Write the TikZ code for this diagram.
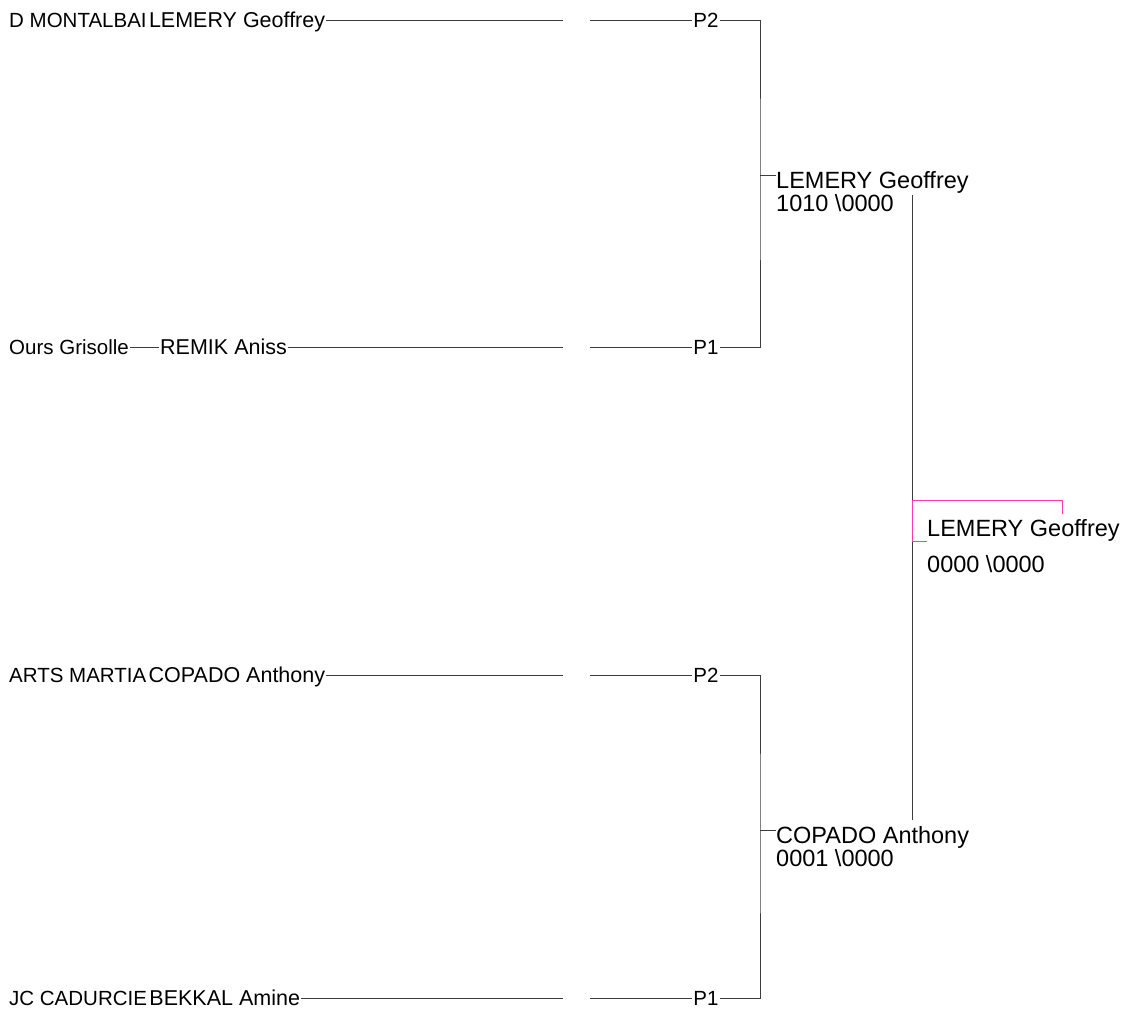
\documentclass[tikz,border=0pt]{standalone}
\usepackage{fontspec}
\setmainfont{Liberation Sans}
\usepackage{tikz}
\usetikzlibrary{positioning, calc}
\usepackage{xcolor}
\definecolor{wiregray}{RGB}{60,60,60}
\definecolor{winnerpink}{RGB}{255,60,170}
\newcommand{\clubfont}{\fontsize{20.5}{24}\selectfont}
\newcommand{\entryfont}{\fontsize{21.5}{26}\selectfont}
\newcommand{\seedfont}{\fontsize{20.5}{24}\selectfont}
\newcommand{\roundfont}{\fontsize{23.5}{19.5}\selectfont}
\newcommand{\finalfont}{\fontsize{23.5}{36}\selectfont}
\tikzset{
  entrybase/.style={inner sep=0pt, inner xsep=1pt, text height=14pt, text depth=0pt},
  clubbox/.style={entrybase, anchor=west, font=\clubfont},
  playerbox/.style={entrybase, font=\entryfont},
  seedbox/.style={entrybase, font=\seedfont},
  roundbox/.style={inner sep=0pt, anchor=north west, align=left, font=\roundfont},
  finalbox/.style={inner sep=0pt, anchor=north west, align=left, font=\finalfont},
  wire/.style={draw=wiregray, line width=0.9pt},
  pinkwire/.style={draw=winnerpink, line width=0.9pt}
}
\begin{document}
\begin{tikzpicture}[x=1pt, y=-1pt, node distance=0pt]
  \useasboundingbox (0,0) rectangle (1127,1010);

  \node[clubbox] (clubA) at (8,20) {D MONTALBAI};
  \node[playerbox, right=of clubA] (playerA) {LEMERY Geoffrey};
  \node[clubbox] (clubB) at (8,347) {Ours Grisolle};
  \node[playerbox, right=29pt of clubB] (playerB) {REMIK Aniss};
  \node[clubbox] (clubC) at (8,675) {ARTS MARTIA};
  \node[playerbox, right=of clubC] (playerC) {COPADO Anthony};
  \node[clubbox] (clubD) at (8,998) {JC CADURCIE};
  \node[playerbox, right=of clubD] (playerD) {BEKKAL Amine};

  \node[seedbox] (seedA) at (706,20) {P2};
  \node[seedbox] (seedB) at (706,347) {P1};
  \node[seedbox] (seedC) at (706,675) {P2};
  \node[seedbox] (seedD) at (706,998) {P1};

  \coordinate (gapA) at (563,20);    \coordinate (backA) at (590,20);
  \coordinate (gapB) at (563,347);   \coordinate (backB) at (590,347);
  \coordinate (gapC) at (563,675);   \coordinate (backC) at (590,675);
  \coordinate (gapD) at (563,998);   \coordinate (backD) at (590,998);

  \coordinate (joinTop) at (760,175);
  \coordinate (joinBot) at (760,830);
  \node[roundbox] (semiTop) at (776,171) {LEMERY Geoffrey\\1010 \textbackslash0000};
  \node[roundbox] (semiBot) at (776,826) {COPADO Anthony\\0001 \textbackslash0000};

  \coordinate (finalTop) at (912,195);
  \coordinate (finalBot) at (912,820);
  \coordinate (pinkTop) at (912,500);
  \coordinate (pinkEnd) at (1062,514);
  \coordinate (pinkTick) at (927,541);
  \node[finalbox] (final) at (927,519) {LEMERY Geoffrey\\0000 \textbackslash0000};

  \draw[wire] (playerA) -- (gapA);
  \draw[wire] (clubB) -- (playerB);
  \draw[wire] (playerB) -- (gapB);
  \draw[wire] (playerC) -- (gapC);
  \draw[wire] (playerD) -- (gapD);
  \draw[wire] (backA) -- (seedA);
  \draw[wire] (backB) -- (seedB);
  \draw[wire] (backC) -- (seedC);
  \draw[wire] (backD) -- (seedD);
  \draw[wire] (seedA.east) -| (joinTop) |- (seedB.east);
  \draw[wire] (seedC.east) -| (joinBot) |- (seedD.east);
  \draw[wire] (joinTop) -- (joinTop -| semiTop.west);
  \draw[wire] (joinBot) -- (joinBot -| semiBot.west);
  \draw[wire] (finalTop) -- (finalBot);
  \draw[pinkwire] (pinkTop) -| (pinkEnd);
  \draw[pinkwire] (pinkTop) |- (pinkTick);
\end{tikzpicture}
\end{document}
